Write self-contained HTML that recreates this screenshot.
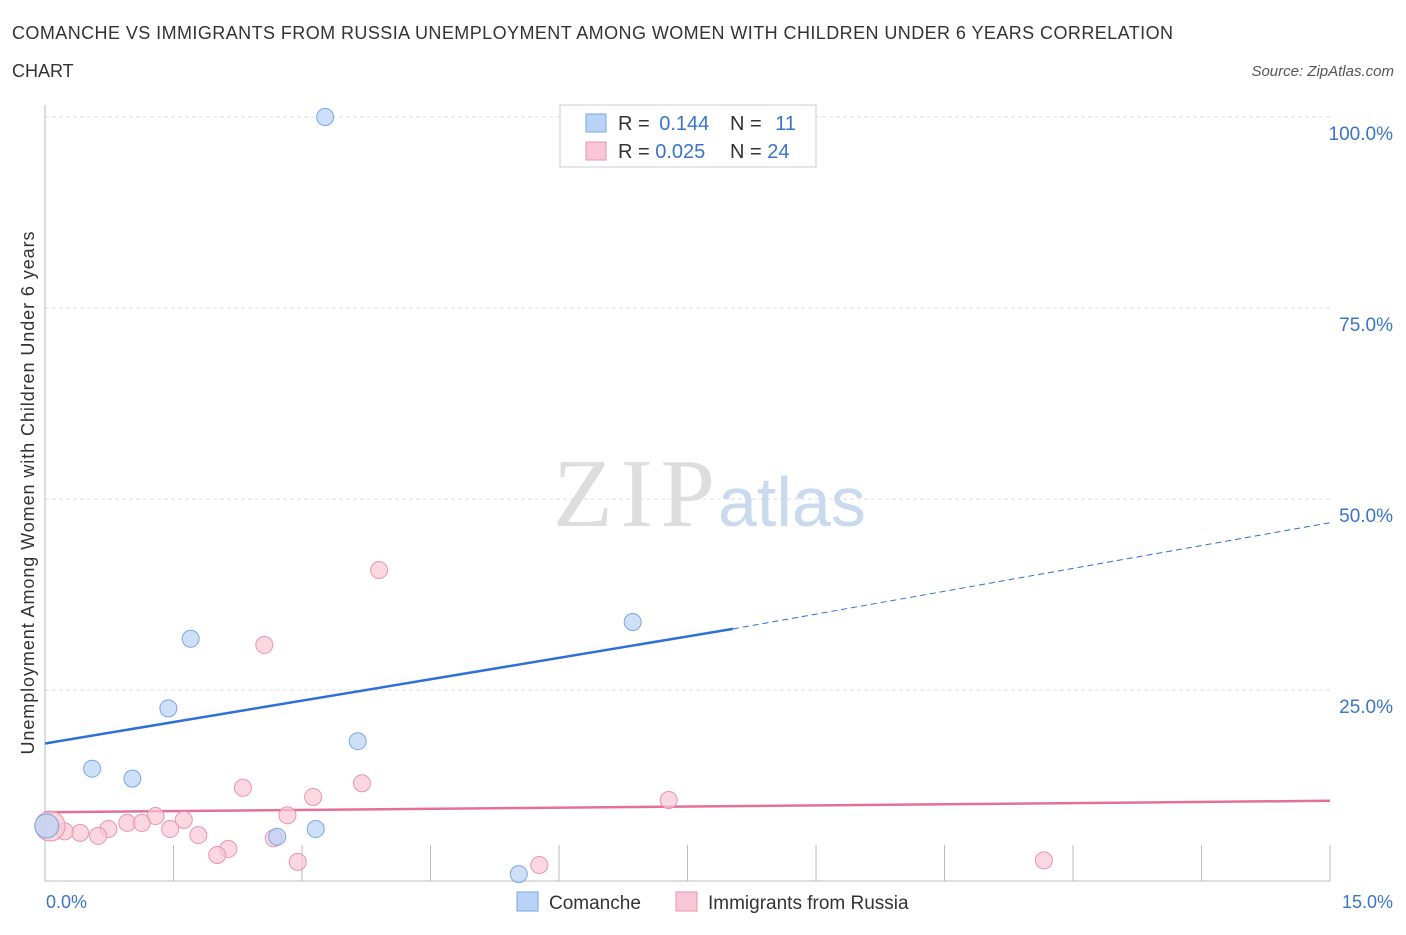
<!DOCTYPE html>
<html><head><meta charset="utf-8"><style>
body{margin:0;background:#fff;font-family:"Liberation Sans",sans-serif;}
</style></head><body>
<svg width="1406" height="930" xmlns="http://www.w3.org/2000/svg">
<text x="12" y="39" font-size="18" fill="#333" textLength="1161">COMANCHE VS IMMIGRANTS FROM RUSSIA UNEMPLOYMENT AMONG WOMEN WITH CHILDREN UNDER 6 YEARS CORRELATION</text>
<text x="12" y="77" font-size="18" fill="#333">CHART</text>
<text x="1394" y="76" font-size="15" fill="#555" font-style="italic" text-anchor="end">Source: ZipAtlas.com</text>
<g id="grid"></g>
<text x="553" y="526" font-size="98" fill="#ddd" font-family="Liberation Serif,serif" textLength="162">ZIP</text>
<text x="718" y="526" font-size="70" fill="#c9d9ee">atlas</text>
<g id="axes"></g>
<g id="lines"></g>
<g id="points"></g>
<text x="0" y="0" transform="translate(34,493) rotate(-90)" font-size="18" fill="#333" text-anchor="middle" textLength="523">Unemployment Among Women with Children Under 6 years</text>
<text x="46" y="908" font-size="18" fill="#3a74c9">0.0%</text>
<text x="1393" y="908" font-size="18" fill="#3a74c9" text-anchor="end">15.0%</text>
<g>
<rect x="560" y="105" width="256" height="62" fill="#fff" stroke="#ccc"/>
<rect x="586" y="114" width="20" height="18" fill="#b8d3f5" stroke="#7aa6e0"/>
<text x="618" y="130" font-size="20" fill="#333">R = <tspan fill="#3a74c9" dx="4">0.144</tspan></text>
<text x="730" y="130" font-size="20" fill="#333">N = <tspan fill="#3a74c9" dx="8">11</tspan></text>
<rect x="586" y="142" width="20" height="18" fill="#f8c6d4" stroke="#e895ae"/>
<text x="618" y="158" font-size="20" fill="#333">R = <tspan fill="#3a74c9">0.025</tspan></text>
<text x="730" y="158" font-size="20" fill="#333">N = <tspan fill="#3a74c9">24</tspan></text>
</g>
<g>
<rect x="517" y="892" width="21" height="19" fill="#b8d3f5" stroke="#7aa6e0"/>
<text x="549" y="909" font-size="19" fill="#333">Comanche</text>
<rect x="676" y="892" width="21" height="19" fill="#f8c6d4" stroke="#e895ae"/>
<text x="708" y="909" font-size="19" fill="#333">Immigrants from Russia</text>
</g>
</svg>
<script>
const yTicks=[25,50,75,100];
const yTickLabels=["25.0%","50.0%","75.0%","100.0%"];
const xTicks=[0,1.5,3,4.5,6,7.5,9,10.5,12,13.5,15];
const comancheX=[3.27,1.70,1.44,0.55,1.02,3.65,6.86,2.71,3.16,5.53,0.02];
const comancheY=[100,31.7,22.6,14.7,13.4,18.3,33.9,5.8,6.8,0.9,7.2];
const russiaX=[3.9,2.56,2.31,3.70,3.13,7.28,2.83,1.29,0.96,1.13,1.62,1.46,0.74,0.41,0.62,0.23,1.79,2.14,2.01,2.67,2.95,5.77,11.66,0.06];
const russiaY=[40.7,30.9,12.2,12.8,11.0,10.6,8.6,8.5,7.6,7.6,8.0,6.8,6.8,6.3,5.9,6.5,6.0,4.2,3.4,5.6,2.5,2.1,2.7,7.2];
const comancheTrend=[[0,18.0],[8.03,33.0],[15,46.9]];
const russiaTrend=[[0,9.0],[15,10.5]];
const NS="http://www.w3.org/2000/svg";
const X=v=>45+v*85.67, Y=v=>881-v*7.64;
function mk(t,a,p){const e=document.createElementNS(NS,t);for(const k in a)e.setAttribute(k,a[k]);document.getElementById(p).appendChild(e);return e;}
yTicks.forEach((t,i)=>{
 const l=mk('line',{x1:45,x2:1330,y1:Y(t),y2:Y(t),stroke:'#ddd','stroke-dasharray':'4,3'},'grid');
 
 
 const tx=mk('text',{x:1393,y:Y(t)+23,'font-size':19,fill:'#3a74c9','text-anchor':'end'},'grid');
 tx.textContent=yTickLabels[i];
 
 
});
const ax=mk('line',{x1:45,x2:1330,y1:881,y2:881,stroke:'#bbb'},'axes');


const ay=mk('line',{x1:45,x2:45,y1:105,y2:881,stroke:'#bbb'},'axes');


xTicks.forEach(t=>{const l=mk('line',{x1:X(t),x2:X(t),y1:845,y2:881,stroke:'#bbb'},'axes');
 
 });
let a=comancheTrend;
let l1=mk('line',{x1:X(a[0][0]),y1:Y(a[0][1]),x2:X(a[1][0]),y2:Y(a[1][1]),stroke:'#2f6fd6','stroke-width':2.5},'lines');


let l2=mk('line',{x1:X(a[1][0]),y1:Y(a[1][1]),x2:X(a[2][0]),y2:Y(a[2][1]),stroke:'#2f6fd6','stroke-width':1,'stroke-dasharray':'6,4'},'lines');


a=russiaTrend;
let l3=mk('line',{x1:X(a[0][0]),y1:Y(a[0][1]),x2:X(a[1][0]),y2:Y(a[1][1]),stroke:'#e4709a','stroke-width':2.5},'lines');


russiaX.forEach((x,i)=>{const big=i===russiaX.length-1;
 const c=mk('circle',{cx:X(x),cy:Y(russiaY[i]),r:big?15:8.5,fill:'#f8c6d4','fill-opacity':0.7,stroke:'#e895ae'},'points');
 
 });
comancheX.forEach((x,i)=>{const big=i===comancheX.length-1;
 const c=mk('circle',{cx:X(x),cy:Y(comancheY[i]),r:big?12:8.5,fill:'#b8d3f5','fill-opacity':0.7,stroke:'#7aa6e0'},'points');
 
 });
</script>
</body></html>
